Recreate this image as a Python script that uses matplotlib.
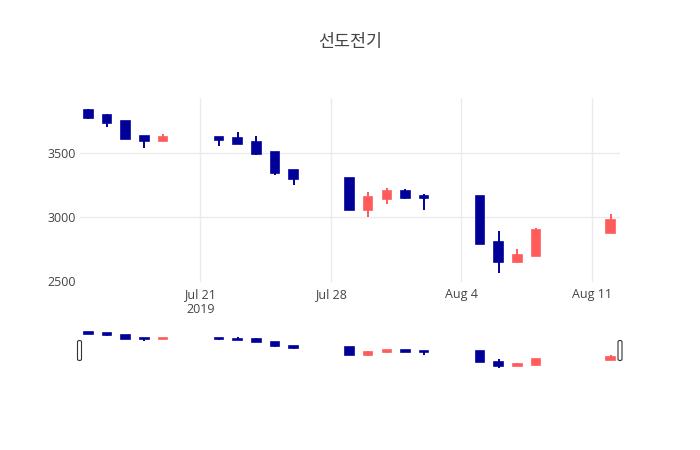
import matplotlib.pyplot as plt
import matplotlib.dates as mdates
from matplotlib.patches import FancyBboxPatch
import pandas as pd

plt.rcParams['font.family'] = ['Open Sans', 'Noto Sans CJK KR', 'DejaVu Sans']

# daily prices
dates = ['2019-07-15', '2019-07-16', '2019-07-17', '2019-07-18', '2019-07-19',
         '2019-07-22', '2019-07-23', '2019-07-24', '2019-07-25', '2019-07-26',
         '2019-07-29', '2019-07-30', '2019-07-31', '2019-08-01', '2019-08-02',
         '2019-08-05', '2019-08-06', '2019-08-07', '2019-08-08', '2019-08-12']
opens = [3835, 3795, 3750, 3630, 3595, 3625, 3615, 3585, 3505, 3365,
         3300, 3050, 3140, 3200, 3165, 3160, 2800, 2645, 2690, 2875]
highs = [3845, 3800, 3750, 3630, 3650, 3625, 3665, 3630, 3505, 3365,
         3305, 3190, 3225, 3215, 3180, 3160, 2890, 2750, 2910, 3025]
lows = [3765, 3705, 3605, 3540, 3595, 3555, 3570, 3485, 3325, 3250,
        3050, 3000, 3100, 3140, 3050, 2790, 2560, 2635, 2690, 2875]
closes = [3770, 3735, 3610, 3595, 3625, 3600, 3570, 3490, 3345, 3295,
          3050, 3155, 3200, 3145, 3150, 2790, 2650, 2700, 2895, 2975]

title = '선도전기'
tick_dates = ['2019-07-21', '2019-07-28', '2019-08-04', '2019-08-11']
tick_labels = ['Jul 21\n2019', 'Jul 28', 'Aug 4', 'Aug 11']
y_ticks = [2500, 3000, 3500]

up_color = '#ff5b5b'
down_color = '#000099'
grid_color = '#ebebef'
text_color = '#444444'

df = pd.DataFrame({'date': pd.to_datetime(dates), 'open': opens, 'high': highs,
                   'low': lows, 'close': closes})
df['x'] = mdates.date2num(df['date'])
df['color'] = [up_color if c >= o else down_color for o, c in zip(df['open'], df['close'])]
df['bottom'] = df[['open', 'close']].min(axis=1)
df['height'] = (df['close'] - df['open']).abs()

W, H = 700, 450
fig = plt.figure(figsize=(7, 4.5), dpi=100)


def px_axes(left, top, right, bottom):
    return fig.add_axes([left / W, 1 - bottom / H, (right - left) / W, (bottom - top) / H])


def draw_candles(ax):
    ax.vlines(df['x'], df['low'], df['high'], colors=df['color'], linewidth=1.4, zorder=2)
    ax.bar(df['x'], df['height'], bottom=df['bottom'], width=0.46, color=df['color'],
           edgecolor=df['color'], linewidth=1.2, zorder=3)


xmin = df['x'].iloc[0] - 0.45
xmax = df['x'].iloc[-1] + 0.5

ax = px_axes(80, 98, 620, 281.5)
draw_candles(ax)
ax.set_xlim(xmin, xmax)
ax.set_ylim(2494, 3928)
ax.set_yticks(y_ticks)
ax.set_yticklabels([str(v) for v in y_ticks])
ax.set_xticks(mdates.date2num(pd.to_datetime(tick_dates)))
ax.set_xticklabels(tick_labels)
ax.tick_params(length=0, labelsize=9, labelcolor=text_color, pad=3)
ax.tick_params(axis='x', pad=5)
ax.grid(True, color=grid_color, linewidth=1)
ax.get_ygridlines()[0].set_visible(False)
ax.set_axisbelow(True)
for s in ax.spines.values():
    s.set_visible(False)

# range slider
sl = px_axes(80, 327, 620, 373)
draw_candles(sl)
sl.set_xlim(xmin, xmax)
sl.set_ylim(2400, 4020)
sl.axis('off')

for cx in (79.5, 620):
    fig.patches.append(FancyBboxPatch(((cx - 2) / W, 1 - 360.5 / H), 4 / W, 20 / H,
                                      boxstyle='round,pad=0,rounding_size=0.003',
                                      transform=fig.transFigure, facecolor='white',
                                      edgecolor='#333333', linewidth=0.8, zorder=5))

fig.text(0.5, 1 - 43 / H, title, ha='center', va='center', fontsize=12.5, color=text_color)

fig.savefig('out.png', dpi=100)
